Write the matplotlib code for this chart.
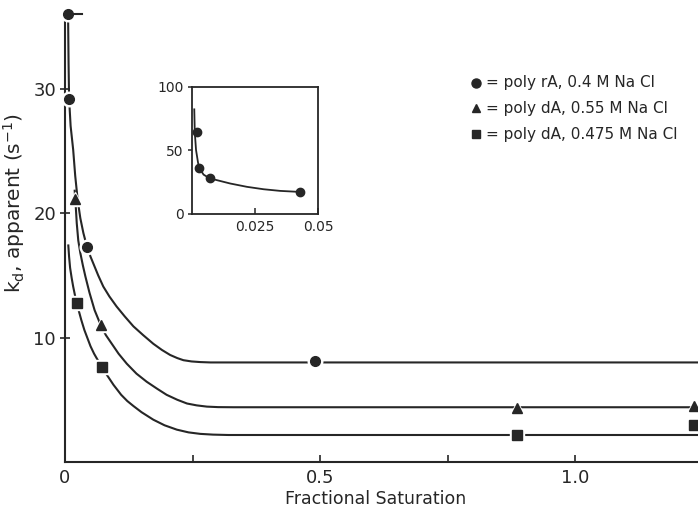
import matplotlib
matplotlib.use('Agg')
import matplotlib.pyplot as plt
from matplotlib.lines import Line2D

plt.rcParams['font.family'] = ['DejaVu Sans']
plt.rcParams['mathtext.fontset'] = 'dejavusans'

# ---- data ----
# measured points
rA_x = [0.005, 0.008, 0.043, 0.49]
rA_y = [36.0, 29.2, 17.3, 8.1]
dA55_x = [0.020, 0.070, 0.885, 1.232]
dA55_y = [21.1, 11.0, 4.3, 4.5]
dA475_x = [0.023, 0.072, 0.886, 1.232]
dA475_y = [12.8, 7.6, 2.2, 3.0]

# short horizontal bar at the top point
top_bar_x = [0.005, 0.033]
top_bar_y = [36.0, 36.0]

# hand-drawn fitted curves
rA_curve_x = [0.006, 0.007, 0.008, 0.011, 0.016, 0.020, 0.025, 0.030, 0.036, 0.043,
              0.050, 0.056, 0.065, 0.075, 0.087, 0.101, 0.117, 0.134, 0.153, 0.173,
              0.190, 0.206, 0.220, 0.232, 0.248, 0.265, 0.285, 0.31, 1.24]
rA_curve_y = [36.0, 32.0, 29.2, 27.0, 25.1, 23.0, 21.0, 19.6, 18.4, 17.3,
              16.5, 15.9, 15.0, 14.1, 13.3, 12.5, 11.7, 10.9, 10.2, 9.5,
              9.0, 8.6, 8.35, 8.18, 8.08, 8.03, 8.0, 8.0, 8.0]
dA55_curve_x = [0.019, 0.021, 0.023, 0.026, 0.030, 0.035, 0.040, 0.048, 0.058, 0.070,
                0.080, 0.090, 0.105, 0.121, 0.140, 0.160, 0.180, 0.199, 0.220, 0.239,
                0.258, 0.278, 0.30, 0.33, 1.24]
dA55_curve_y = [21.8, 20.6, 19.2, 17.8, 16.8, 15.8, 14.9, 13.6, 12.2, 11.0,
                10.2, 9.6, 8.7, 7.9, 7.1, 6.45, 5.9, 5.4, 5.0, 4.7,
                4.55, 4.45, 4.41, 4.4, 4.4]
dA475_curve_x = [0.0065, 0.008, 0.010, 0.013, 0.016, 0.020, 0.023, 0.027, 0.032, 0.038,
                 0.044, 0.050, 0.057, 0.064, 0.072, 0.082, 0.095, 0.110, 0.122, 0.134,
                 0.150, 0.173, 0.195, 0.219, 0.242, 0.265, 0.29, 0.32, 1.24]
dA475_curve_y = [17.4, 16.5, 15.6, 14.8, 14.1, 13.3, 12.8, 12.15, 11.4, 10.6,
                 9.95, 9.3, 8.7, 8.2, 7.65, 7.0, 6.2, 5.4, 4.9, 4.5,
                 4.0, 3.4, 2.95, 2.6, 2.38, 2.26, 2.2, 2.17, 2.17]

# inset (poly rA, low saturation)
inset_x = [0.002, 0.0029, 0.007, 0.0427]
inset_y = [64.2, 35.6, 27.7, 17.0]
inset_curve_x = [0.0009, 0.0011, 0.0016, 0.0024, 0.0029, 0.0046, 0.007,
                 0.0152, 0.0218, 0.0284, 0.035, 0.0427]
inset_curve_y = [82, 64, 50, 40, 35.6, 30.6, 27.7, 23.6, 21.0, 19.1, 17.8, 17.0]

# labels / ticks
x_ticks = [0, 0.5, 1.0]
x_ticklabels = ['0', '0.5', '1.0']
x_minor = [0.25, 0.75]
y_ticks = [10, 20, 30]
y_ticklabels = ['10', '20', '30']
inset_xticks = [0.025, 0.05]
inset_xticklabels = ['0.025', '0.05']
inset_yticks = [0, 50, 100]
inset_yticklabels = ['0', '50', '100']
legend_labels = ['= poly rA, 0.4 M Na Cl',
                 '= poly dA, 0.55 M Na Cl',
                 '= poly dA, 0.475 M Na Cl']

INK = '#262626'
LW = 1.5

fig = plt.figure(figsize=(6.98, 5.09), dpi=100)
fig.patch.set_facecolor('white')
W, H = 698, 509
ax = fig.add_axes([65 / W, 1 - 462 / H, (W - 65) / W, (462 - 14) / H])
ax.set_xlim(0, 1.24)
ax.set_ylim(0, 36)
for s in ['top', 'right']:
    ax.spines[s].set_visible(False)
for s in ['left', 'bottom']:
    ax.spines[s].set_color(INK)
    ax.spines[s].set_linewidth(LW)

ax.plot(rA_curve_x, rA_curve_y, color=INK, lw=LW, clip_on=False)
ax.plot(dA55_curve_x, dA55_curve_y, color=INK, lw=LW, clip_on=False)
ax.plot(dA475_curve_x, dA475_curve_y, color=INK, lw=LW, clip_on=False)
ax.plot(top_bar_x, top_bar_y, color=INK, lw=LW, clip_on=False, zorder=3.5)


def pts(x, y, m, ms):
    ax.plot(x, y, ls='none', marker=m, ms=ms + 3.5, color='white', mec='white',
            clip_on=False, zorder=3)
    ax.plot(x, y, ls='none', marker=m, ms=ms, color=INK, mec=INK, clip_on=False, zorder=4)


pts(rA_x, rA_y, 'o', 7.0)
pts(dA55_x, dA55_y, '^', 7.0)
pts(dA475_x, dA475_y, 's', 6.5)

ax.set_xticks(x_ticks)
ax.set_xticklabels(x_ticklabels)
ax.set_xticks(x_minor, minor=True)
ax.set_yticks(y_ticks)
ax.set_yticklabels(y_ticklabels)
ax.tick_params(axis='x', which='both', direction='in', length=5, width=1.2,
               color=INK, labelsize=13, labelcolor=INK, pad=5)
ax.tick_params(axis='y', direction='inout', length=7, width=1.2,
               color=INK, labelsize=13, labelcolor=INK, pad=3)

fig.text(376 / W, 1 - 499 / H, 'Fractional Saturation', ha='center', va='center',
         fontsize=12.5, color=INK)
fig.text(14 / W, 1 - 203 / H, r'k$_\mathrm{d}$, apparent (s$^{-1}$)', ha='center',
         va='center', rotation=90, fontsize=14.5, color=INK)

# legend drawn as text
leg_y = [83, 108, 134]
leg_m = ['o', '^', 's']
leg_ms = [6.5, 6.0, 6.0]
for yy, m, ms, lab in zip(leg_y, leg_m, leg_ms, legend_labels):
    fig.lines.append(Line2D([476 / W], [1 - yy / H], ls='none', marker=m,
                            ms=ms, color=INK, transform=fig.transFigure))
    fig.text(486 / W, 1 - yy / H, lab, ha='left', va='center', fontsize=11, color=INK)

# inset
axi = fig.add_axes([192 / W, 1 - 213.5 / H, 126 / W, 127 / H])
axi.set_xlim(0, 0.05)
axi.set_ylim(0, 100)
for s in axi.spines.values():
    s.set_color(INK)
    s.set_linewidth(1.3)
axi.plot(inset_curve_x, inset_curve_y, color=INK, lw=1.3)
axi.plot(inset_x, inset_y, ls='none', marker='o', ms=6, color=INK)
axi.set_xticks(inset_xticks)
axi.set_xticklabels(inset_xticklabels)
axi.set_yticks(inset_yticks)
axi.set_yticklabels(inset_yticklabels)
axi.tick_params(axis='x', direction='in', length=4, width=1.1, color=INK,
                labelsize=10, labelcolor=INK, pad=5)
axi.tick_params(axis='y', direction='out', length=3, width=1.1, color=INK,
                labelsize=10, labelcolor=INK, pad=3)

fig.savefig('out.png', dpi=100, facecolor='white')
